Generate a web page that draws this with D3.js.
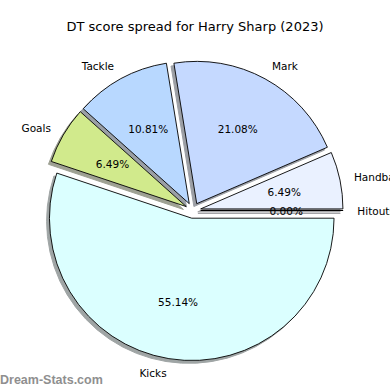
<!DOCTYPE html>
<html>
<head>
<meta charset="utf-8">
<script src="https://cdn.jsdelivr.net/npm/d3@7"></script>
<style>
  html, body { margin: 0; padding: 0; background: #fff; }
  svg { display: block; overflow: hidden; }
</style>
</head>
<body>
<div id="chart"></div>
<script>
// ---- data ----
const categories = ["Hitouts", "Handballs", "Mark", "Tackle", "Goals", "Kicks"];
const counts = [0, 12, 39, 20, 12, 102];
const colors = ["#eaf1ff", "#eaf1ff", "#c5d9ff", "#b8d8ff", "#d1ea8c", "#dbffff"];
const titleText = "DT score spread for Harry Sharp (2023)";
const watermark = "Dream-Stats.com";

// ---- layout ----
const W = 390, H = 390;
const cx = 193, cy = 210.5, R = 142.3;
const explode = 7.8;
const shadowOff = 2.85;

const svg = d3.select("#chart").append("svg")
  .attr("width", W).attr("height", H);

const total = d3.sum(counts);
const data = categories.map((c, i) => ({ name: c, value: counts[i], color: colors[i] }));

// counter-clockwise from 3 o'clock (matplotlib default)
const pie = d3.pie().sort(null).value(d => d.value)
  .startAngle(Math.PI / 2).endAngle(Math.PI / 2 - 2 * Math.PI);
const arcs = pie(data);

const arc = d3.arc().innerRadius(0).outerRadius(R);

function dir(a) {
  const m = (a.startAngle + a.endAngle) / 2;
  return [Math.sin(m), -Math.cos(m)];
}

const g = svg.append("g").attr("transform", `translate(${cx},${cy})`);

function shade(col) {
  const c = d3.rgb(col);
  return d3.rgb(c.r * 0.3, c.g * 0.3, c.b * 0.3);
}

// shadows first
g.selectAll("path.shadow").data(arcs).enter().append("path")
  .attr("class", "shadow")
  .attr("d", arc)
  .attr("transform", d => {
    const [dx, dy] = dir(d);
    return `translate(${dx * explode - shadowOff},${dy * explode + shadowOff})`;
  })
  .attr("fill", d => shade(d.data.color))
  .attr("stroke", d => shade(d.data.color))
  .attr("stroke-width", 1)
  .attr("opacity", 0.5);

// wedges
g.selectAll("path.wedge").data(arcs).enter().append("path")
  .attr("class", "wedge")
  .attr("d", arc)
  .attr("transform", d => {
    const [dx, dy] = dir(d);
    return `translate(${dx * explode},${dy * explode})`;
  })
  .attr("fill", d => d.data.color)
  .attr("stroke", "#000")
  .attr("stroke-width", 0.9)
  .attr("stroke-linejoin", "miter");

// labels
g.selectAll("text.lab").data(arcs).enter().append("text")
  .attr("class", "lab")
  .attr("x", d => dir(d)[0] * (explode + 1.1 * R))
  .attr("y", d => dir(d)[1] * (explode + 1.1 * R))
  .attr("text-anchor", d => dir(d)[0] > 0 ? "start" : "end")
  .attr("dominant-baseline", "central")
  .attr("font-family", "DejaVu Sans")
  .attr("font-size", 10.5)
  .attr("fill", "#000")
  .text(d => d.data.name);

// percentages
g.selectAll("text.pct").data(arcs).enter().append("text")
  .attr("class", "pct")
  .attr("x", d => dir(d)[0] * (explode + 0.6 * R))
  .attr("y", d => dir(d)[1] * (explode + 0.6 * R))
  .attr("text-anchor", "middle")
  .attr("dominant-baseline", "central")
  .attr("font-family", "DejaVu Sans")
  .attr("font-size", 10.5)
  .attr("fill", "#000")
  .text(d => (d.data.value / total * 100).toFixed(2) + "%");

// title
svg.append("text")
  .attr("x", 195).attr("y", 26)
  .attr("text-anchor", "middle")
  .attr("dominant-baseline", "central")
  .attr("font-family", "DejaVu Sans")
  .attr("font-size", 13)
  .attr("fill", "#000")
  .text(titleText);

// watermark
svg.append("text")
  .attr("x", 0).attr("y", 380)
  .attr("dominant-baseline", "central")
  .attr("font-family", "Liberation Sans")
  .attr("font-weight", "bold")
  .attr("font-size", 12.5)
  .attr("fill", "#8f8f8f")
  .text(watermark);
</script>
</body>
</html>
